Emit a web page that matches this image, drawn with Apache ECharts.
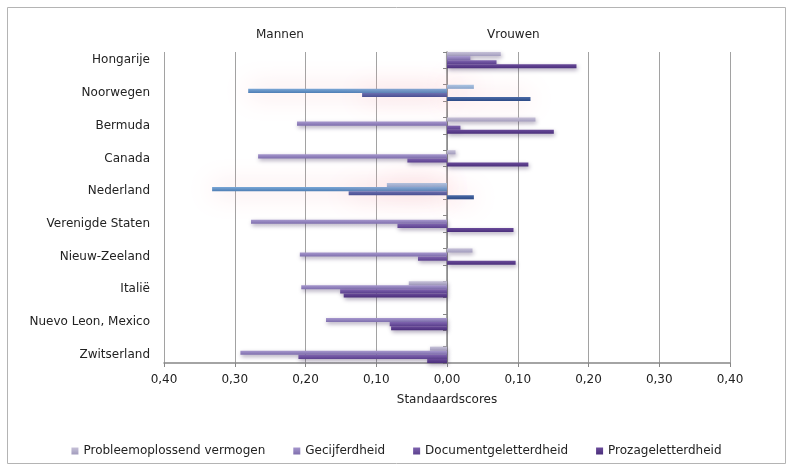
<!DOCTYPE html>
<html>
<head>
<meta charset="utf-8">
<script src="https://cdn.jsdelivr.net/npm/echarts@6/dist/echarts.min.js"></script>
<style>
  html, body { margin: 0; padding: 0; background: #ffffff; }
  #chart { width: 793px; height: 471px; }
</style>
</head>
<body>
<div id="chart"></div>
<script>
// Gender differences in standard scores per country (negative = men ahead, positive = women ahead)
const countries = ['Hongarije', 'Noorwegen', 'Bermuda', 'Canada', 'Nederland',
  'Verenigde Staten', 'Nieuw-Zeeland', 'Italië', 'Nuevo Leon, Mexico', 'Zwitserland'];
const seriesNames = ['Probleemoplossend vermogen', 'Gecijferdheid', 'Documentgeletterdheid', 'Prozageletterdheid'];
const probleemScores = [0.076, 0.038, 0.125, 0.012, -0.085, null, 0.036, -0.054, null, -0.024];
const gecijferScores = [0.033, -0.281, -0.212, -0.267, -0.332, -0.277, -0.208, -0.206, -0.171, -0.292];
const documentScores = [0.070, -0.120, 0.019, -0.056, -0.139, -0.070, -0.041, -0.151, -0.081, -0.210];
const prozaScores = [0.183, 0.118, 0.151, 0.115, 0.038, 0.094, 0.097, -0.146, -0.079, -0.028];
const highlightedCountries = ['Noorwegen', 'Nederland'];
const sideTitles = ['Mannen', 'Vrouwen'];
const axisName = 'Standaardscores';

function grad(c1, c2) {
  return new echarts.graphic.LinearGradient(0, 0, 0, 1, [
    { offset: 0, color: c1 }, { offset: 1, color: c2 }
  ]);
}

const baseColors = [
  ['#c6c1d8', '#a29cbd'],
  ['#a697cd', '#7e6ead'],
  ['#7e63ae', '#5c418f'],
  ['#6a4b9a', '#4a2e7b']
];
const highlightColors = [
  ['#a9c7e6', '#7fa3cd'],
  ['#7ba7d6', '#4e7eb5'],
  ['#6c70b1', '#4a4e91'],
  ['#4b6ba7', '#2b4985']
];

// Each country row is followed by an empty spacer row
const rows = [];
countries.forEach((c, i) => {
  rows.push(c);
  if (i < countries.length - 1) rows.push('gap' + i);
});

function buildData(values, si) {
  const out = [];
  values.forEach((v, i) => {
    const item = { value: v == null ? '-' : v };
    if (highlightedCountries.includes(countries[i])) {
      item.itemStyle = {
        color: grad(highlightColors[si][0], highlightColors[si][1]),
        shadowColor: 'rgba(245,160,170,0.75)',
        shadowBlur: 26,
        shadowOffsetX: 0,
        shadowOffsetY: 0
      };
    }
    out.push(item);
    if (i < values.length - 1) out.push('-');
  });
  return out;
}

const allScores = [probleemScores, gecijferScores, documentScores, prozaScores];

const series = seriesNames.map((name, si) => ({
  name: name,
  type: 'bar',
  yAxisIndex: 0,
  barGap: '0%',
  barCategoryGap: '0%',
  itemStyle: {
    color: grad(baseColors[si][0], baseColors[si][1]),
    shadowColor: 'rgba(50,30,80,0.4)',
    shadowBlur: 4,
    shadowOffsetX: 1,
    shadowOffsetY: 2
  },
  emphasis: { disabled: true },
  data: buildData(allScores[si], si)
}));

const textColor = '#222222';
const fontFamily = '"DejaVu Sans", Verdana, sans-serif';

const chart = echarts.init(document.getElementById('chart'), null, { renderer: 'canvas' });
chart.setOption({
  animation: false,
  backgroundColor: '#ffffff',
  textStyle: { fontFamily: fontFamily },
  graphic: [
    // chart area frame
    { type: 'rect', shape: { x: 7.5, y: 7.5, width: 778, height: 456 }, silent: true, z: -10,
      style: { fill: 'none', stroke: '#b4b4b4', lineWidth: 1 } },
    { type: 'text', left: 284 - 28, top: 29, style: { text: sideTitles[0], fill: textColor, font: '12px ' + fontFamily } },
    { type: 'text', left: 515 - 28, top: 29, style: { text: sideTitles[1], fill: textColor, font: '12px ' + fontFamily } }
  ],
  grid: { left: 164, right: 63, top: 52, bottom: 108, containLabel: false },
  legend: {
    data: seriesNames,
    left: 'center',
    top: 440,
    icon: 'rect',
    itemWidth: 7,
    itemHeight: 7,
    itemGap: 28,
    textStyle: { fontSize: 12, color: textColor, fontFamily: fontFamily }
  },
  xAxis: {
    type: 'value',
    min: -0.4,
    max: 0.4,
    interval: 0.1,
    name: axisName,
    nameLocation: 'middle',
    nameGap: 31,
    nameTextStyle: { fontSize: 12, color: textColor, fontFamily: fontFamily },
    axisLine: { show: true, lineStyle: { color: '#868686', width: 1.5 } },
    axisTick: { show: true, length: 4, lineStyle: { color: '#868686' } },
    axisLabel: {
      margin: 11,
      fontSize: 12,
      color: textColor,
      fontFamily: fontFamily,
      formatter: v => Math.abs(v).toFixed(2).replace('.', ',')
    },
    splitLine: { show: true, lineStyle: { color: '#a2a2a2', width: 1 } }
  },
  yAxis: [
    {
      type: 'category',
      data: rows,
      inverse: true,
      position: 'left',
      axisLine: { show: false, onZero: false },
      axisTick: { show: false },
      splitLine: { show: false },
      axisLabel: {
        interval: 0,
        margin: 14,
        fontSize: 12,
        color: textColor,
        fontFamily: fontFamily,
        formatter: v => (countries.includes(v) ? v : '')
      }
    },
    {
      type: 'category',
      data: rows,
      inverse: true,
      position: 'left',
      axisLine: { show: true, onZero: true, lineStyle: { color: '#868686', width: 1.5 } },
      axisTick: { show: true, length: 4, interval: 0, lineStyle: { color: '#868686' } },
      axisLabel: { show: false },
      splitLine: { show: false }
    }
  ],
  series: series
});
</script>
</body>
</html>
